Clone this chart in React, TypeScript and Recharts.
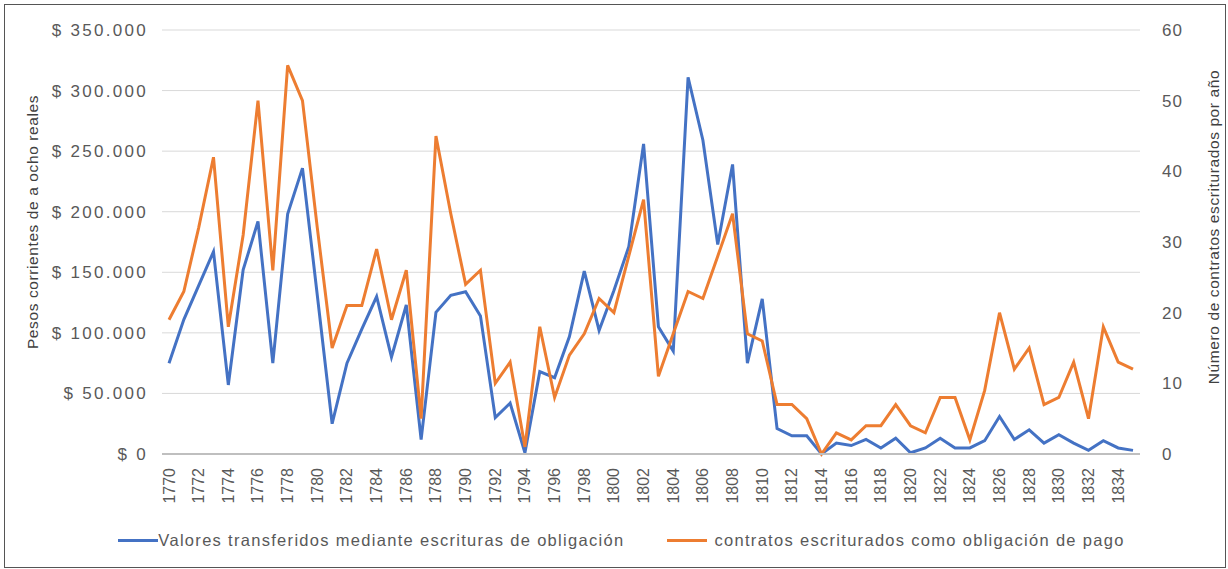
import { LineChart, Line, XAxis, YAxis, CartesianGrid, Legend } from "recharts"

const years = [
  1770, 1771, 1772, 1773, 1774, 1775, 1776, 1777, 1778, 1779,
  1780, 1781, 1782, 1783, 1784, 1785, 1786, 1787, 1788, 1789,
  1790, 1791, 1792, 1793, 1794, 1795, 1796, 1797, 1798, 1799,
  1800, 1801, 1802, 1803, 1804, 1805, 1806, 1807, 1808, 1809,
  1810, 1811, 1812, 1813, 1814, 1815, 1816, 1817, 1818, 1819,
  1820, 1821, 1822, 1823, 1824, 1825, 1826, 1827, 1828, 1829,
  1830, 1831, 1832, 1833, 1834, 1835,
]

// pesos transferidos (eje izquierdo)
const valores = [
  75000, 111000, 139000, 167000, 57000, 152000, 192000, 75000, 198000, 236000,
  131000, 25000, 75000, 103000, 130000, 80000, 123000, 12000, 117000, 131000,
  134000, 114000, 30000, 42000, 1000, 68000, 63000, 97000, 151000, 102000,
  135000, 171000, 256000, 105000, 85000, 311000, 259000, 173000, 239000, 75000,
  128000, 21000, 15000, 15000, 0, 9000, 7000, 12000, 5000, 13000,
  1000, 5000, 13000, 5000, 5000, 11000, 31000, 12000, 20000, 9000,
  16000, 9000, 3000, 11000, 5000, 3000,
]

// numero de contratos (eje derecho)
const contratos = [
  19, 23, 32, 42, 18, 31, 50, 26, 55, 50,
  32, 15, 21, 21, 29, 19, 26, 5, 45, 34,
  24, 26, 10, 13, 1, 18, 8, 14, 17, 22,
  20, 28, 36, 11, 17, 23, 22, 28, 34, 17,
  16, 7, 7, 5, 0, 3, 2, 4, 4, 7,
  4, 3, 8, 8, 2, 9, 20, 12, 15, 7,
  8, 13, 5, 18, 13, 12,
]

const leftTicks = [0, 50000, 100000, 150000, 200000, 250000, 300000, 350000]
const rightTicks = [0, 10, 20, 30, 40, 50, 60]

const BLUE = "#4472c4"
const ORANGE = "#ed7d31"
const TEXT = "#595959"
const FONT = "'Liberation Sans', Arial, sans-serif"

const data = years.map((y, i) => ({
  year: y,
  valores: valores[i],
  contratos: contratos[i],
}))

function formatPesos(v: number): string {
  return "$ " + String(v).replace(/\B(?=(\d{3})+(?!\d))/g, ".")
}

function YearTick({ x, y, payload }: any) {
  return (
    <g transform={`translate(${x},${y})`}>
      <text
        transform="rotate(-90)"
        x={-6}
        y={0}
        textAnchor="end"
        dominantBaseline="central"
        fill={TEXT}
        fontSize={16}
        fontFamily={FONT}
      >
        {payload.value}
      </text>
    </g>
  )
}

function LegendContent() {
  const items = [
    { label: "Valores transferidos mediante escrituras de obligación", color: BLUE, gap: 0 },
    { label: "contratos escriturados como obligación de pago", color: ORANGE, gap: 7 },
  ]
  return (
    <div
      style={{
        display: "flex",
        justifyContent: "center",
        alignItems: "center",
        height: 53,
        gap: 43,
        paddingLeft: 18,
        fontFamily: FONT,
        fontSize: 16.5,
        letterSpacing: 1.3,
        color: TEXT,
      }}
    >
      {items.map((it) => (
        <div key={it.label} style={{ display: "flex", alignItems: "center" }}>
          <span
            style={{
              display: "inline-block",
              width: 40,
              height: 3,
              background: it.color,
              marginRight: it.gap,
            }}
          />
          <span>{it.label}</span>
        </div>
      ))}
    </div>
  )
}

function LeftTitle({ viewBox }: any) {
  const cx = viewBox.x + 27
  const cy = viewBox.y + viewBox.height / 2 - 20
  return (
    <text
      x={cx}
      y={cy}
      transform={`rotate(-90, ${cx}, ${cy})`}
      textAnchor="middle"
      dominantBaseline="central"
      fill="#404040"
      fontSize={15.5}
      fontFamily={FONT}
      letterSpacing={0.6}
    >
      Pesos corrientes de a ocho reales
    </text>
  )
}

function RightTitle({ viewBox }: any) {
  const cx = viewBox.x + 73
  const cy = viewBox.y + viewBox.height / 2 - 15
  return (
    <text
      x={cx}
      y={cy}
      transform={`rotate(-90, ${cx}, ${cy})`}
      textAnchor="middle"
      dominantBaseline="central"
      fill="#404040"
      fontSize={15.5}
      fontFamily={FONT}
      letterSpacing={0.6}
    >
      Número de contratos escriturados por año
    </text>
  )
}

export default function App() {
  return (
    <div
      style={{
        position: "absolute",
        left: 4,
        top: 4,
        width: 1222,
        height: 564,
        boxSizing: "border-box",
        border: "1px solid #555",
        background: "#fff",
      }}
    >
      <LineChart
        width={1220}
        height={562}
        data={data}
        margin={{ top: 25, right: 5, left: 0, bottom: 0 }}
      >
        <CartesianGrid vertical={false} stroke="#d9d9d9" yAxisId="left" />
        <XAxis
          dataKey="year"
          interval={1}
          height={60}
          padding={{ left: 7, right: 7 }}
          tickLine={false}
          axisLine={{ stroke: "#bfbfbf", strokeWidth: 2 }}
          tick={<YearTick />}
        />
        <YAxis
          yAxisId="left"
          width={157}
          domain={[0, 350000]}
          ticks={leftTicks}
          tickFormatter={formatPesos}
          axisLine={false}
          tickLine={false}
          tickMargin={8}
          tick={{ fill: TEXT, fontSize: 17, fontFamily: FONT, letterSpacing: 2.3 }}
          label={<LeftTitle />}
        />
        <YAxis
          yAxisId="right"
          orientation="right"
          width={80}
          domain={[0, 60]}
          ticks={rightTicks}
          axisLine={false}
          tickLine={false}
          tickMargin={16}
          tick={{ fill: TEXT, fontSize: 17, fontFamily: FONT, letterSpacing: 1 }}
          label={<RightTitle />}
        />
        <Legend verticalAlign="bottom" height={53} content={<LegendContent />} />
        <Line
          yAxisId="left"
          type="linear"
          dataKey="valores"
          stroke={BLUE}
          strokeWidth={3}
          dot={false}
          isAnimationActive={false}
        />
        <Line
          yAxisId="right"
          type="linear"
          dataKey="contratos"
          stroke={ORANGE}
          strokeWidth={3}
          dot={false}
          isAnimationActive={false}
        />
      </LineChart>
    </div>
  )
}
